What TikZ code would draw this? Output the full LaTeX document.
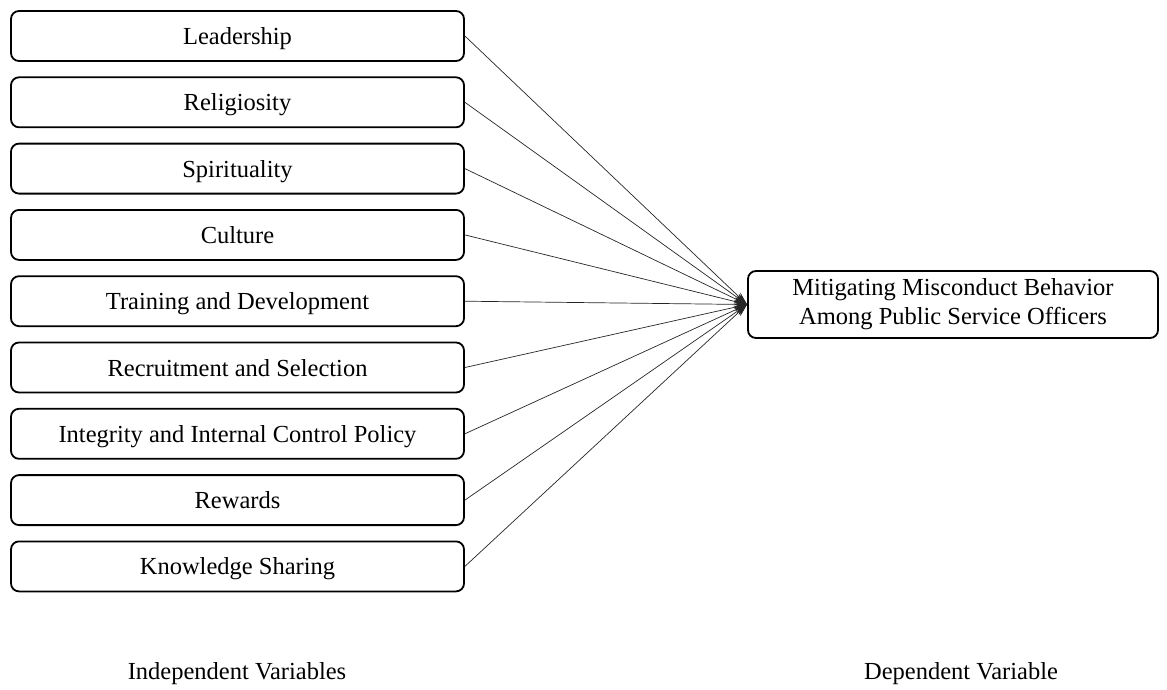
\documentclass[tikz,border=0pt]{standalone}
\usepackage{fontspec}
\setmainfont{Liberation Serif}
\usetikzlibrary{arrows.meta}

\tikzset{
    varbox/.style={draw, line width=1.8pt, rounded corners=8pt, minimum width=453pt, minimum height=50pt, inner sep=0pt, text height=17pt, text depth=0pt, font=\fontsize{24.5}{29}\selectfont},
    depbox/.style={draw, line width=1.8pt, rounded corners=8pt, minimum width=410pt, minimum height=67pt, inner sep=0pt, align=center, font=\fontsize{24.5}{29}\selectfont},
    caption/.style={font=\fontsize{24.5}{29}\selectfont}
}

\begin{document}
\begin{tikzpicture}[x=1pt, y=-1pt, >={Stealth[length=13pt, width=8pt]}]
        \useasboundingbox (0,0) rectangle (1167,689);
        \node[depbox] (dv) at (953,304.5) {Mitigating Misconduct Behavior\\Among Public Service Officers};
        \foreach \name [count=\i from 0] in {Leadership, Religiosity, Spirituality, Culture, Training and Development, Recruitment and Selection, Integrity and Internal Control Policy, Rewards, Knowledge Sharing}
            {
                \node[varbox] (iv\i) at (237.5, 36+66.3*\i) {\name};
                \draw [->, line width=0.7pt, black!85] (iv\i.east) -- (dv.west);
            }
        \node[caption] (ivlabel) at (237,674) {Independent Variables};
        \node[caption] (dvlabel) at (961,674) {Dependent Variable};
    \end{tikzpicture}
\end{document}
